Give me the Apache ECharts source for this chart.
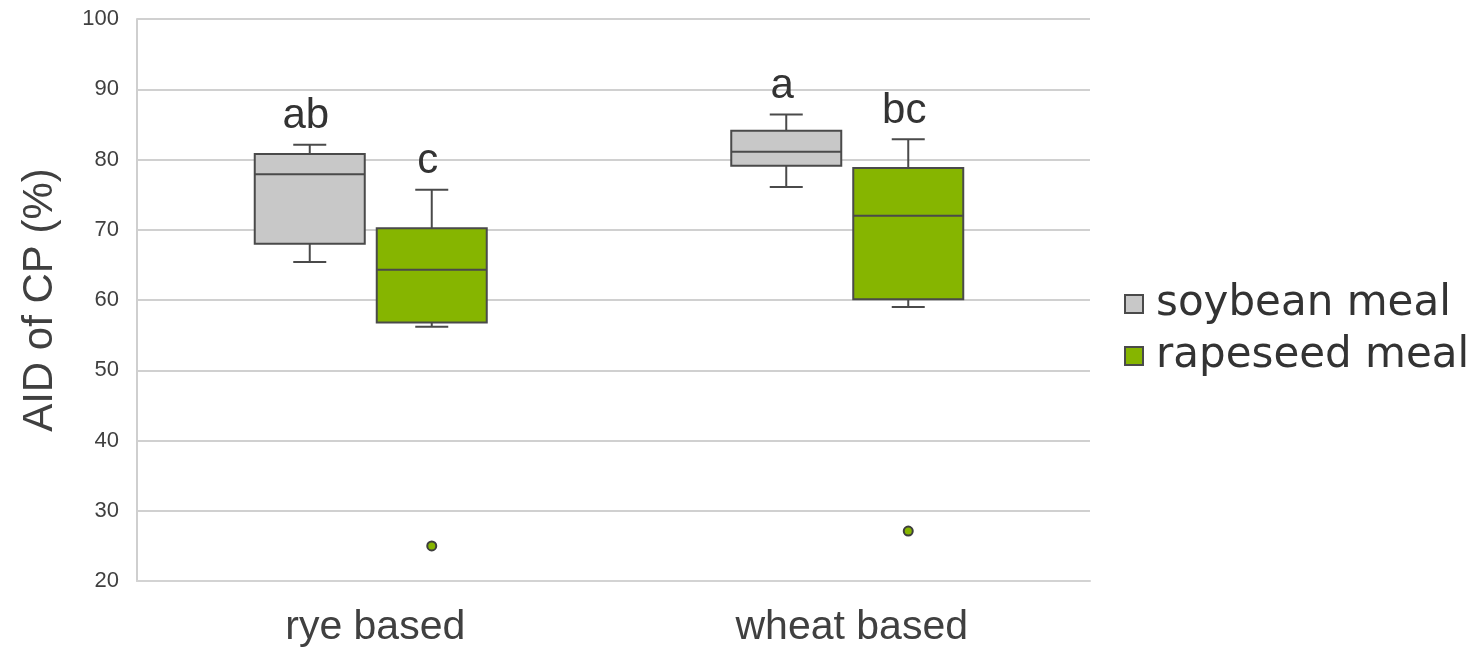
<!DOCTYPE html>
<html>
<head>
<meta charset="utf-8">
<script src="https://cdn.jsdelivr.net/npm/echarts@6/dist/echarts.min.js"></script>
<style>
html,body{margin:0;padding:0;background:#fff;}
#chart{width:1476px;height:648px;}
</style>
</head>
<body>
<div id="chart"></div>
<script>
// ---- data ----
const categories = ['rye based', 'wheat based'];
const seriesNames = ['soybean meal', 'rapeseed meal'];
// [min, Q1, median, Q3, max]
const soybeanStats = [
  [65.4, 68.0, 77.9, 80.8, 82.1],
  [76.1, 79.1, 81.1, 84.1, 86.4]
];
const rapeseedStats = [
  [56.2, 56.8, 64.3, 70.2, 75.7],
  [59.0, 60.1, 72.0, 78.8, 82.9]
];
const rapeseedOutliers = [25.0, 27.1];
const soybeanLetters = ['ab', 'a'];
const rapeseedLetters = ['c', 'bc'];
const yTicks = {min: 20, max: 100, interval: 10};

// ---- styles ----
const FONT = '"Liberation Sans", Arial, sans-serif';
const TEXT_COLOR = '#404040';
const EDGE = '#4a4a4a';
const COLORS = ['#c8c8c8', '#86b500'];
const OFFSETS = [-65.5, 56.5];
const BOX_W = 110;
const CAP_W = 33;

function makeRender(color, offset, letters) {
  return function (params, api) {
    const ci = api.value(0);
    const ys = [1, 2, 3, 4, 5].map(i => api.coord([ci, api.value(i)])[1]);
    const cx = api.coord([ci, api.value(1)])[0] + offset;
    const [yMin, yQ1, yMed, yQ3, yMax] = ys;
    const st = {stroke: EDGE, lineWidth: 2};
    return {
      type: 'group',
      children: [
        {type: 'line', shape: {x1: cx, y1: yMax, x2: cx, y2: yQ3}, style: st},
        {type: 'line', shape: {x1: cx, y1: yQ1, x2: cx, y2: yMin}, style: st},
        {type: 'line', shape: {x1: cx - CAP_W / 2, y1: yMax, x2: cx + CAP_W / 2, y2: yMax}, style: st},
        {type: 'line', shape: {x1: cx - CAP_W / 2, y1: yMin, x2: cx + CAP_W / 2, y2: yMin}, style: st},
        {type: 'rect', shape: {x: cx - BOX_W / 2, y: yQ3, width: BOX_W, height: yQ1 - yQ3},
          style: {fill: color, stroke: EDGE, lineWidth: 2}},
        {type: 'line', shape: {x1: cx - BOX_W / 2, y1: yMed, x2: cx + BOX_W / 2, y2: yMed}, style: st},
        {type: 'text', x: cx - 4, y: yMax - 7,
          style: {text: letters[params.dataIndex], align: 'center', verticalAlign: 'bottom',
            font: '42px ' + FONT, fill: '#333333'}}
      ]
    };
  };
}

const chart = echarts.init(document.getElementById('chart'), null, {renderer: 'canvas'});
chart.setOption({
  backgroundColor: '#ffffff',
  animation: false,
  grid: {left: 137, right: 386, top: 19, bottom: 67, containLabel: false},
  legend: {
    orient: 'vertical',
    left: 1119,
    top: 278,
    itemWidth: 18,
    itemHeight: 18,
    itemGap: 10,
    textStyle: {fontFamily: '"DejaVu Sans", Verdana, sans-serif', fontSize: 42, color: '#333333', padding: [0, 0, 0, 8]},
    data: [
      {name: seriesNames[0], icon: 'rect', itemStyle: {color: COLORS[0], borderColor: EDGE, borderWidth: 2}},
      {name: seriesNames[1], icon: 'rect', itemStyle: {color: COLORS[1], borderColor: EDGE, borderWidth: 2}}
    ]
  },
  xAxis: {
    type: 'category',
    data: categories,
    axisLine: {show: true, lineStyle: {color: '#d3d3d3', width: 2}},
    axisTick: {show: false},
    axisLabel: {fontFamily: FONT, fontSize: 41, color: TEXT_COLOR, margin: 26},
    splitLine: {show: false}
  },
  yAxis: {
    type: 'value',
    min: yTicks.min,
    max: yTicks.max,
    interval: yTicks.interval,
    name: 'AID of CP (%)',
    nameLocation: 'middle',
    nameGap: 76,
    nameTextStyle: {fontFamily: FONT, fontSize: 42, color: TEXT_COLOR},
    axisLine: {show: true, lineStyle: {color: '#cfcfcf', width: 2}},
    axisTick: {show: false},
    axisLabel: {fontFamily: FONT, fontSize: 22, color: TEXT_COLOR, margin: 18},
    splitLine: {show: true, lineStyle: {color: '#d0d0d0', width: 2}}
  },
  series: [
    {
      name: seriesNames[0],
      type: 'custom',
      itemStyle: {color: COLORS[0]},
      encode: {x: 0, y: [1, 2, 3, 4, 5]},
      renderItem: makeRender(COLORS[0], OFFSETS[0], soybeanLetters),
      data: soybeanStats.map((s, i) => [i].concat(s)),
      z: 3
    },
    {
      name: seriesNames[1],
      type: 'custom',
      itemStyle: {color: COLORS[1]},
      encode: {x: 0, y: [1, 2, 3, 4, 5]},
      renderItem: makeRender(COLORS[1], OFFSETS[1], rapeseedLetters),
      data: rapeseedStats.map((s, i) => [i].concat(s)),
      z: 3
    },
    {
      name: seriesNames[1],
      type: 'scatter',
      symbol: 'circle',
      symbolSize: 9,
      symbolOffset: [OFFSETS[1], 0],
      itemStyle: {color: COLORS[1], borderColor: '#3d3d3d', borderWidth: 2, opacity: 1},
      data: rapeseedOutliers.map((v, i) => [i, v]),
      z: 4
    }
  ]
});
</script>
</body>
</html>
